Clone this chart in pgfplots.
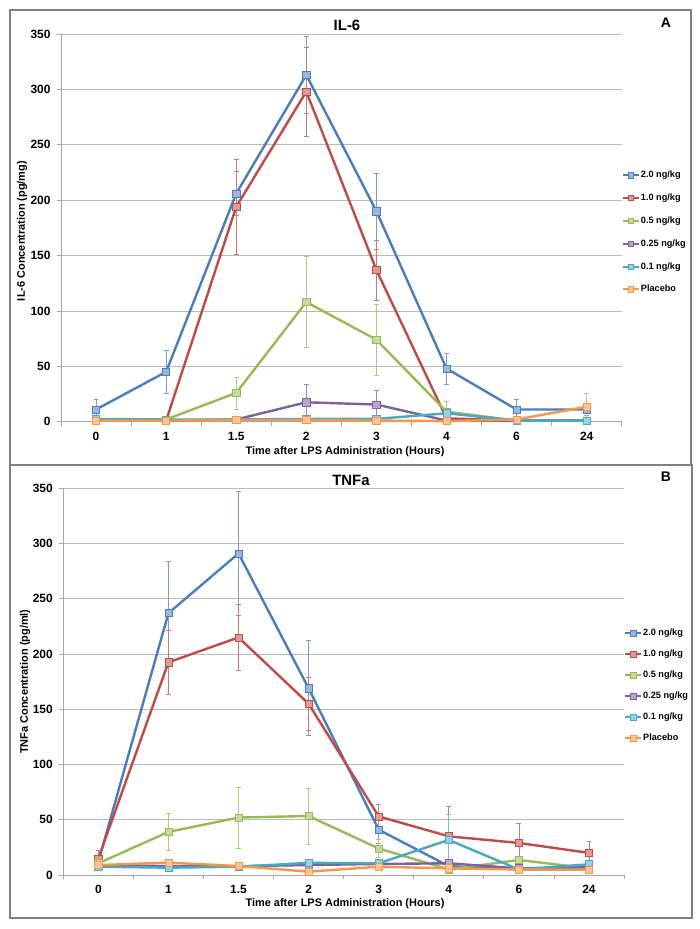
\documentclass[border=0pt]{standalone}
\usepackage{pgfplots}
\pgfplotsset{compat=1.18}
\usepackage{fontspec}
\setmainfont{Liberation Sans}
\definecolor{cBlue}{HTML}{4A7EBB}
\definecolor{cRed}{HTML}{BE4B48}
\definecolor{cGreen}{HTML}{98B954}
\definecolor{cPurple}{HTML}{7D60A0}
\definecolor{cCyan}{HTML}{46AAC5}
\definecolor{cOrange}{HTML}{F79646}
\pgfplotsset{
  ser/.style={color=#1, line width=2.4bp, mark=square*,
    mark size=3.6bp, mark options={fill=#1!55!white, draw=#1, line width=0.6bp, solid},
    error bars/.cd, y dir=both, y explicit,
    error bar style={line width=0.6bp, #1!75!white},
    error mark options={line width=0.6bp, #1!75!white, mark size=2.4bp, rotate=90}},
  myax/.style={
    scale only axis, width=560.7bp,
    xmin=-0.5, xmax=7.5, ymin=0, ymax=350,
    axis lines=left, axis line style={gray!70, line width=0.8bp, -},
    ytick={0,50,...,350}, ymajorgrids, grid style={gray!55, line width=0.8bp},
    xtick={-0.5,0.5,...,7.5}, xticklabels={},
    extra x ticks={0,1,2,3,4,5,6,7},
    extra x tick labels={0,1,1.5,2,3,4,6,24},
    extra x tick style={major tick length=0pt, grid=none, tick label style={yshift=-7bp}},
    tick align=outside, major tick length=4bp,
    tick style={gray!70, line width=0.8bp},
    tick label style={font=\bfseries\fontsize{12}{14}\selectfont},
    yticklabel style={xshift=-3bp},
    /pgf/number format/assume math mode=true,
    clip=false,
    legend cell align=left,
    legend image code/.code={\draw[mark repeat=2, mark phase=2, line width=2bp, mark size=2.6bp] plot coordinates {(0bp,0bp) (8bp,0bp) (16bp,0bp)};},
  }
}
\begin{document}
\begin{tikzpicture}[x=1bp,y=1bp]
\useasboundingbox (0,0) rectangle (700,929);
\draw[gray, line width=1.6bp] (10,919) rectangle (691,464);
\draw[gray, line width=1.6bp] (10,464) rectangle (692,11);

% ---------------- Panel A: IL-6 ----------------
\begin{axis}[myax, height=387.7bp, at={(61bp,507.3bp)}, anchor=south west,
  legend style={at={(1.0,0.65)}, anchor=north west, draw=none, fill=none,
    font=\bfseries\fontsize{9.2}{11}\selectfont, row sep=11.8bp, inner sep=0pt,
    nodes={inner sep=1bp, text height=7bp, text depth=2bp}}]
\addplot[ser=cBlue] coordinates {(0,11) +- (0,9) (1,45) +- (0,19) (2,206) +- (0,20) (3,313) +- (0,35) (4,190) +- (0,34) (5,48) +- (0,14) (6,11) +- (0,9) (7,11) +- (0,5)};
\addlegendentry{2.0 ng/kg}
\addplot[ser=cRed] coordinates {(0,1) +- (0,0) (1,1) +- (0,0) (2,194) +- (0,43) (3,298) +- (0,40) (4,137) +- (0,27) (5,3) +- (0,0) (6,1) +- (0,0) (7,1) +- (0,0)};
\addlegendentry{1.0 ng/kg}
\addplot[ser=cGreen] coordinates {(0,2) +- (0,0) (1,2) +- (0,0) (2,26) +- (0,14.5) (3,108) +- (0,41) (4,74) +- (0,32) (5,9) +- (0,9) (6,1) +- (0,0) (7,1) +- (0,0)};
\addlegendentry{0.5 ng/kg}
\addplot[ser=cPurple] coordinates {(0,1) +- (0,0) (1,1) +- (0,0) (2,2) +- (0,0) (3,17.5) +- (0,16) (4,15.5) +- (0,13) (5,1) +- (0,0) (6,1) +- (0,0) (7,1) +- (0,0)};
\addlegendentry{0.25 ng/kg}
\addplot[ser=cCyan] coordinates {(0,2.5) +- (0,0) (1,2) +- (0,0) (2,2) +- (0,0) (3,2.5) +- (0,0) (4,2.5) +- (0,0) (5,7.6) +- (0,3) (6,1) +- (0,0) (7,1) +- (0,0)};
\addlegendentry{0.1 ng/kg}
\addplot[ser=cOrange] coordinates {(0,1) +- (0,0) (1,1) +- (0,0) (2,1.5) +- (0,0) (3,1.5) +- (0,0) (4,1) +- (0,0) (5,0.5) +- (0,0) (6,2) +- (0,0) (7,13.5) +- (0,12.5)};
\addlegendentry{Placebo}
\end{axis}

% ---------------- Panel B: TNFa ----------------
\begin{axis}[myax, height=386.7bp, at={(63.3bp,54bp)}, anchor=south west,
  legend style={at={(1.0,0.64)}, anchor=north west, draw=none, fill=none,
    font=\bfseries\fontsize{9.2}{11}\selectfont, row sep=10bp, inner sep=0pt,
    nodes={inner sep=1bp, text height=7bp, text depth=2bp}}]
\addplot[ser=cBlue] coordinates {(0,12) +- (0,0) (1,237) +- (0,47) (2,291) +- (0,56) (3,169) +- (0,43) (4,41) +- (0,12) (5,8) +- (0,0) (6,5) +- (0,0) (7,5) +- (0,0)};
\addlegendentry{2.0 ng/kg}
\addplot[ser=cRed] coordinates {(0,15) +- (0,7) (1,192.5) +- (0,29) (2,215) +- (0,30) (3,155) +- (0,24) (4,53) +- (0,11) (5,35) +- (0,27) (6,29) +- (0,17.5) (7,20) +- (0,10.5)};
\addlegendentry{1.0 ng/kg}
\addplot[ser=cGreen] coordinates {(0,10.6) +- (0,0) (1,39) +- (0,16.5) (2,52) +- (0,27.5) (3,53.4) +- (0,25.5) (4,24) +- (0,8) (5,5) +- (0,0) (6,13.6) +- (0,0) (7,6) +- (0,0)};
\addlegendentry{0.5 ng/kg}
\addplot[ser=cPurple] coordinates {(0,9) +- (0,0) (1,8) +- (0,0) (2,8) +- (0,0) (3,9) +- (0,0) (4,10) +- (0,0) (5,10.6) +- (0,0) (6,6) +- (0,0) (7,7) +- (0,0)};
\addlegendentry{0.25 ng/kg}
\addplot[ser=cCyan] coordinates {(0,7.5) +- (0,0) (1,6.6) +- (0,0) (2,7.5) +- (0,0) (3,11) +- (0,0) (4,10.6) +- (0,0) (5,31.7) +- (0,23) (6,5) +- (0,0) (7,9.7) +- (0,0)};
\addlegendentry{0.1 ng/kg}
\addplot[ser=cOrange] coordinates {(0,9) +- (0,0) (1,11.2) +- (0,0) (2,8.1) +- (0,0) (3,3) +- (0,0) (4,7.5) +- (0,0) (5,6) +- (0,0) (6,5) +- (0,0) (7,5) +- (0,0)};
\addlegendentry{Placebo}
\end{axis}

% titles, panel letters, axis labels
\node[font=\bfseries\fontsize{15}{17}\selectfont] at (347,904) {IL-6};
\node[font=\bfseries\fontsize{14}{16}\selectfont] at (666,906) {A};
\node[font=\bfseries\fontsize{15}{17}\selectfont] at (351,449) {TNFa};
\node[font=\bfseries\fontsize{14}{16}\selectfont] at (666,452) {B};
\node[rotate=90, font=\bfseries\fontsize{11}{13}\selectfont] at (22,698) {IL-6 Concentration (pg/mg)};
\node[rotate=90, font=\bfseries\fontsize{11}{13}\selectfont] at (25,247.4) {TNFa Concentration (pg/ml)};
\node[font=\bfseries\fontsize{11}{13}\selectfont] at (345,477) {Time after LPS Administration (Hours)};
\node[font=\bfseries\fontsize{11}{13}\selectfont] at (345,25) {Time after LPS Administration (Hours)};
\end{tikzpicture}
\end{document}
